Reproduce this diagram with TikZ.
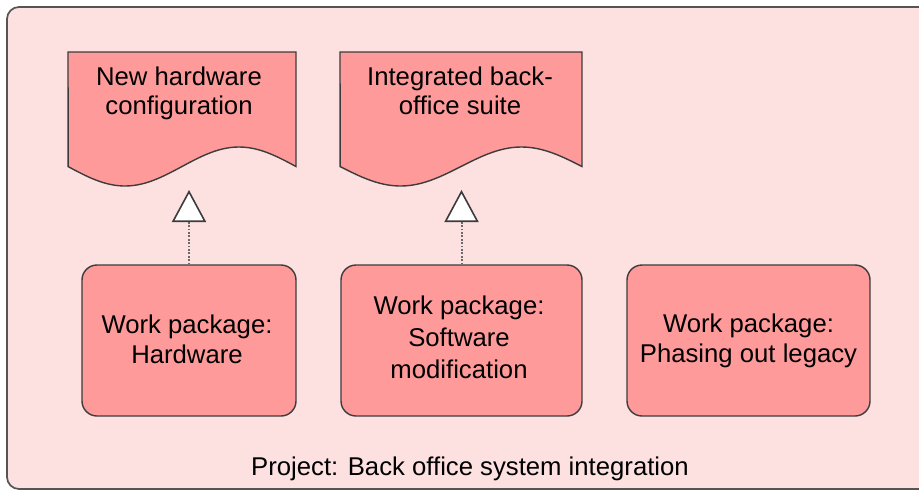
\documentclass[tikz,border=0pt]{standalone}
\usepackage{fontspec}
\setmainfont{Liberation Sans}
\usetikzlibrary{arrows.meta}
\definecolor{outerfill}{HTML}{FDE0E0}
\definecolor{boxfill}{HTML}{FF9A9A}
\definecolor{edgecol}{HTML}{3C3C3C}
\definecolor{framecol}{HTML}{555555}
\definecolor{dotcol}{HTML}{6A6A6A}
\begin{document}
\begin{tikzpicture}[x=1pt,y=1pt,
  every node/.style={font=\fontsize{25.7}{30}\selectfont, inner sep=0pt, align=center},
  wpbox/.style={draw=edgecol, line width=1.4pt, fill=boxfill, rounded corners=15pt},
  delivshape/.style={draw=edgecol, line width=1.4pt, fill=boxfill},
  realize/.style={draw=dotcol, line width=2pt, dash pattern=on 1.8pt off 1.6pt,
    -{Triangle[length=32pt,width=34pt,fill=white,color=edgecol,line width=1.6pt]}}
]
\useasboundingbox (0,0) rectangle (919,-491);
\clip (0,0) rectangle (919,-491);
% project frame
\path[draw=framecol, line width=1.7pt, fill=outerfill, rounded corners=12pt] (7,-7) rectangle (940,-489);
\node[anchor=base] (proj) at (470,-475) {Project: Back office system integration};

% deliverables
\draw[delivshape] (68,-52) -- (296,-52) -- (296,-166.5)
  -- plot[domain=1:0, samples=60, variable=\t] ({68+228*\t},{-(166.5+19.5*sin(360*\t))}) -- cycle;
\node[font=\fontsize{25.7}{29}\selectfont] (d1) at (179,-93) {New hardware\\configuration};

\draw[delivshape] (340,-52) -- (582,-52) -- (582,-166.5)
  -- plot[domain=1:0, samples=60, variable=\t] ({340+242*\t},{-(166.5+19.5*sin(360*\t))}) -- cycle;
\node[font=\fontsize{25.7}{29}\selectfont] (d2) at (460,-91) {Integrated back-\\office suite};

% work packages
\node[wpbox, minimum width=214pt, minimum height=151pt] (w1) at (189,-340.5) {};
\node[wpbox, minimum width=241pt, minimum height=151pt] (w2) at (461.5,-340.5) {};
\node[wpbox, minimum width=243pt, minimum height=151pt] (w3) at (748.5,-340.5) {};
\node (t1) at (187,-339) {Work package:\\Hardware};
\node[font=\fontsize{25.7}{32}\selectfont] (t2) at (459,-337) {Work package:\\Software\\modification};
\node (t3) at (748.5,-340.5) {Work package:\\Phasing out legacy};

% realization connectors
\coordinate (a1) at (189,-190);
\coordinate (a2) at (461.5,-190);
\draw[realize] (w1.north) -- (a1);
\draw[realize] (w2.north) -- (a2);
\end{tikzpicture}
\end{document}
